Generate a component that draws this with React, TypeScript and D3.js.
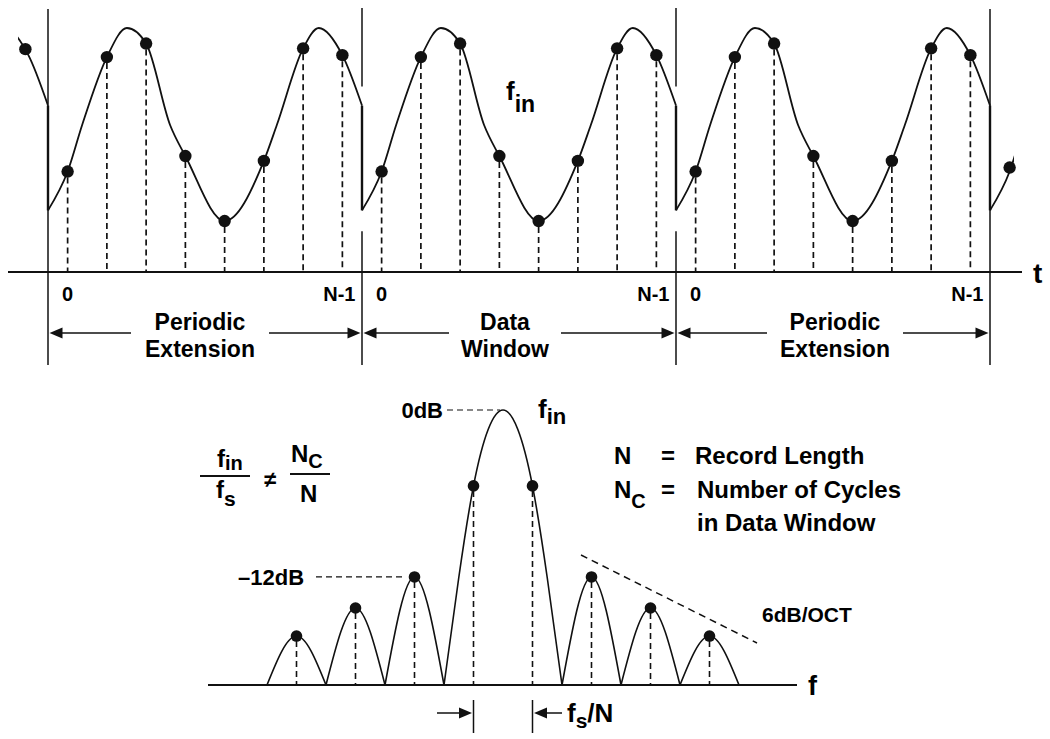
import React from "react";
import * as d3 from "d3";

// ---------- Time domain (top panel) ----------
const sampleIdx = [0, 1, 2, 3, 4, 5, 6, 7];
const sampleVal = [-0.48, 0.7, 0.84, -0.32, -0.99, -0.37, 0.79, 0.72];
// points on the continuous input waveform inside one record (time in samples)
const curveT = [-0.5, 0, 0.37, 1, 1.51, 2, 2.61, 3, 4, 5, 5.33, 6, 6.4, 7, 7.5];
const curveV = [-0.88, -0.48, 0, 0.7, 1, 0.84, 0, -0.32, -0.99, -0.37, 0, 0.79, 1, 0.72, 0.2];
const windows = [0, 1, 2];
const windowTitle = ["Periodic", "Data", "Periodic"];
const windowSubtitle = ["Extension", "Window", "Extension"];
const indexLabels = ["0", "N-1"];

// ---------- Frequency domain (bottom panel) ----------
const sideLobeCenters = [-3.5, -2.5, -1.5, 1.5, 2.5, 3.5];
const sideLobePeaks = [0.178, 0.28, 0.393, 0.393, 0.28, 0.178];
const mainLobeF = [-1, -0.75, -0.5, -0.25, 0, 0.25, 0.5, 0.75, 1];
const mainLobeA = [0, 0.39, 0.724, 0.93, 1, 0.93, 0.724, 0.39, 0];
const mainSampleF = [-0.5, 0.5];
const mainSampleA = [0.724, 0.724];

const FONT = "'Liberation Sans', Arial, Helvetica, sans-serif";

export default function App() {
  const W = 1050;
  const H = 739;

  // top scales
  const xT = d3.scaleLinear().domain([-0.5, 23.5]).range([48, 990]);
  const yT = d3.scaleLinear().domain([-1, 1]).range([222, 28]);
  const axisY = 272;
  const waveLine = d3
    .line<[number, number]>()
    .x((d) => d[0])
    .y((d) => d[1])
    .curve(d3.curveMonotoneX);
  const wavePath = (w: number) =>
    waveLine(curveT.map((t, i) => [xT(w * 8 + t), yT(curveV[i])] as [number, number])) || "";

  const bounds = [0, 1, 2, 3].map((b) => xT(b * 8 - 0.5));
  const yEnd = yT(curveV[curveV.length - 1]);
  const yStart = yT(curveV[0]);

  // bottom scales
  const xF = d3.scaleLinear().domain([-4, 4]).range([267, 739]);
  const yF = d3.scaleLinear().domain([0, 1]).range([685, 410]);
  const lobeLine = d3
    .line<[number, number]>()
    .x((d) => xF(d[0]))
    .y((d) => yF(d[1]))
    .curve(d3.curveNatural);

  const arrow = (tip: number, y: number, dir: number, len = 13, hw = 5.5) =>
    `M${tip},${y}L${tip - dir * len},${y - hw}L${tip - dir * len},${y + hw}Z`;

  const labelCenter = [200, 505, 835];
  const halfGap = [69, 56, 68];
  const arrowY = 333;

  const dash = "6,4";
  const stroke = "#111";

  return (
    <svg
      width={W}
      height={H}
      viewBox={`0 0 ${W} ${H}`}
      style={{ position: "absolute", left: 0, top: 0, background: "#fff" }}
      fontFamily={FONT}
      fontWeight="bold"
    >
      <defs>
        <clipPath id="clipLeft">
          <rect x={18} y={0} width={30} height={300} />
        </clipPath>
        <clipPath id="clipRight">
          <rect x={990} y={0} width={24} height={300} />
        </clipPath>
      </defs>

      {/* ---------- TOP PANEL ---------- */}
      <line x1={8} x2={1022} y1={axisY} y2={axisY} stroke={stroke} strokeWidth={2} />
      <text x={1033} y={283} fontSize={28}>t</text>

      {/* window boundaries */}
      {bounds.map((bx, b) =>
        b === 0 || b === 3 ? (
          <line key={`b${b}`} x1={bx} x2={bx} y1={9} y2={365} stroke={stroke} strokeWidth={1.5} />
        ) : (
          <g key={`b${b}`}>
            <line x1={bx} x2={bx} y1={8} y2={yEnd - 19} stroke={stroke} strokeWidth={1.5} />
            <line x1={bx} x2={bx} y1={yStart + 21} y2={365} stroke={stroke} strokeWidth={1.5} />
          </g>
        )
      )}
      {/* discontinuity jumps */}
      {bounds.map((bx, b) => (
        <line key={`j${b}`} x1={bx} x2={bx} y1={yEnd} y2={yStart} stroke={stroke} strokeWidth={2.4} />
      ))}

      {/* waveform */}
      <path d={wavePath(-1)} fill="none" stroke={stroke} strokeWidth={1.8} clipPath="url(#clipLeft)" />
      {windows.map((w) => (
        <path key={`w${w}`} d={wavePath(w)} fill="none" stroke={stroke} strokeWidth={1.8} />
      ))}
      <path d={wavePath(3)} fill="none" stroke={stroke} strokeWidth={1.8} clipPath="url(#clipRight)" />

      {/* sample stems */}
      {windows.map((w) =>
        sampleIdx.map((k, i) => (
          <line
            key={`s${w}-${k}`}
            x1={xT(w * 8 + k)}
            x2={xT(w * 8 + k)}
            y1={yT(sampleVal[i]) + 6}
            y2={axisY}
            stroke={stroke}
            strokeWidth={1.7}
            strokeDasharray={dash}
          />
        ))
      )}
      {/* sample dots */}
      {windows.map((w) =>
        sampleIdx.map((k, i) => (
          <circle key={`d${w}-${k}`} cx={xT(w * 8 + k)} cy={yT(sampleVal[i])} r={6.2} fill={stroke} />
        ))
      )}
      <circle cx={xT(-8 + sampleIdx[7]) - 3} cy={yT(sampleVal[7]) - 6} r={6.2} fill={stroke} />
      <circle cx={xT(24 + sampleIdx[0])} cy={yT(sampleVal[0]) - 4} r={6.2} fill={stroke} />

      {/* f_in label */}
      <text x={506} y={100} fontSize={26}>
        f<tspan fontSize={23} dy={12}>in</tspan>
      </text>

      {/* index labels and window captions */}
      {windows.map((w) => (
        <g key={`lab${w}`}>
          <text x={xT(w * 8 + 0)} y={301} fontSize={20} textAnchor="middle">
            {indexLabels[0]}
          </text>
          <text x={xT(w * 8 + 7) - 3} y={301} fontSize={20} textAnchor="middle">
            {indexLabels[1]}
          </text>
          <text x={labelCenter[w]} y={330} fontSize={23} textAnchor="middle">
            {windowTitle[w]}
          </text>
          <text x={labelCenter[w]} y={357} fontSize={23} textAnchor="middle">
            {windowSubtitle[w]}
          </text>
          <line
            x1={bounds[w] + 8}
            x2={labelCenter[w] - halfGap[w]}
            y1={arrowY}
            y2={arrowY}
            stroke={stroke}
            strokeWidth={1.5}
          />
          <path d={arrow(bounds[w] + 1.5, arrowY, -1)} fill={stroke} />
          <line
            x1={labelCenter[w] + halfGap[w]}
            x2={bounds[w + 1] - 8}
            y1={arrowY}
            y2={arrowY}
            stroke={stroke}
            strokeWidth={1.5}
          />
          <path d={arrow(bounds[w + 1] - 1.5, arrowY, 1)} fill={stroke} />
        </g>
      ))}

      {/* ---------- BOTTOM PANEL ---------- */}
      <line x1={208} x2={797} y1={yF(0)} y2={yF(0)} stroke={stroke} strokeWidth={2} />
      <text x={808} y={695} fontSize={27}>f</text>

      {/* side lobes */}
      {sideLobeCenters.map((c, i) => (
        <path
          key={`lobe${i}`}
          d={lobeLine([[c - 0.5, 0], [c, sideLobePeaks[i]], [c + 0.5, 0]]) || ""}
          fill="none"
          stroke={stroke}
          strokeWidth={1.6}
        />
      ))}
      {/* main lobe */}
      <path
        d={lobeLine(mainLobeF.map((f, i) => [f, mainLobeA[i]] as [number, number])) || ""}
        fill="none"
        stroke={stroke}
        strokeWidth={1.6}
      />
      {/* stems */}
      {sideLobeCenters.map((c, i) => (
        <line
          key={`ls${i}`}
          x1={xF(c)}
          x2={xF(c)}
          y1={yF(sideLobePeaks[i]) + 5}
          y2={yF(0)}
          stroke={stroke}
          strokeWidth={1.6}
          strokeDasharray={dash}
        />
      ))}
      {mainSampleF.map((f, i) => (
        <line
          key={`ms${i}`}
          x1={xF(f)}
          x2={xF(f)}
          y1={yF(mainSampleA[i]) + 5}
          y2={yF(0)}
          stroke={stroke}
          strokeWidth={1.6}
          strokeDasharray={dash}
        />
      ))}
      {sideLobeCenters.map((c, i) => (
        <circle key={`ld${i}`} cx={xF(c)} cy={yF(sideLobePeaks[i])} r={5.8} fill={stroke} />
      ))}
      {mainSampleF.map((f, i) => (
        <circle key={`md${i}`} cx={xF(f)} cy={yF(mainSampleA[i])} r={5.8} fill={stroke} />
      ))}

      {/* level annotations */}
      <text x={443} y={418} fontSize={22} textAnchor="end">0dB</text>
      <line x1={447} x2={500} y1={yF(1)} y2={yF(1)} stroke={stroke} strokeWidth={1.2} strokeDasharray={dash} />
      <text x={538} y={418} fontSize={26}>
        f<tspan fontSize={22} dy={6}>in</tspan>
      </text>
      <text x={238} y={585} fontSize={22}>–12dB</text>
      <line x1={316} x2={402} y1={yF(sideLobePeaks[2])} y2={yF(sideLobePeaks[2])} stroke={stroke} strokeWidth={1.2} strokeDasharray={dash} />
      <line x1={581} x2={757} y1={555} y2={643} stroke={stroke} strokeWidth={1.5} strokeDasharray="7,5" />
      <text x={762} y={622} fontSize={21}>6dB/OCT</text>

      {/* ratio formula */}
      <text x={217} y={467} fontSize={24}>
        f<tspan fontSize={20} dy={3}>in</tspan>
      </text>
      <line x1={200} x2={250} y1={476} y2={476} stroke={stroke} strokeWidth={2} />
      <text x={216} y={498} fontSize={24}>
        f<tspan fontSize={21} dy={8}>s</tspan>
      </text>
      <text x={264} y={487} fontSize={22}>≠</text>
      <text x={291} y={462} fontSize={24}>
        N<tspan fontSize={20} dy={6}>C</tspan>
      </text>
      <line x1={290} x2={330} y1={474} y2={474} stroke={stroke} strokeWidth={2} />
      <text x={300} y={502} fontSize={24}>N</text>

      {/* legend */}
      <text x={614} y={464} fontSize={24}>N</text>
      <text x={661} y={464} fontSize={24}>=</text>
      <text x={695} y={464} fontSize={24}>Record Length</text>
      <text x={614} y={498} fontSize={24}>
        N<tspan fontSize={20} dy={10}>C</tspan>
      </text>
      <text x={661} y={498} fontSize={24}>=</text>
      <text x={697} y={498} fontSize={24}>Number of Cycles</text>
      <text x={697} y={531} fontSize={24}>in Data Window</text>

      {/* bin width marker */}
      <line x1={437} x2={462} y1={713} y2={713} stroke={stroke} strokeWidth={1.5} />
      <path d={arrow(xF(mainSampleF[0]) - 1.5, 713, 1)} fill={stroke} />
      <line x1={xF(mainSampleF[0])} x2={xF(mainSampleF[0])} y1={700} y2={733} stroke={stroke} strokeWidth={1.5} />
      <line x1={xF(mainSampleF[1])} x2={xF(mainSampleF[1])} y1={700} y2={733} stroke={stroke} strokeWidth={1.5} />
      <path d={arrow(xF(mainSampleF[1]) + 1.5, 713, -1)} fill={stroke} />
      <line x1={xF(mainSampleF[1]) + 12} x2={562} y1={713} y2={713} stroke={stroke} strokeWidth={1.5} />
      <text x={567} y={722} fontSize={26}>
        f<tspan fontSize={21} dy={6}>s</tspan>
        <tspan fontSize={26} dy={-6}>/N</tspan>
      </text>
    </svg>
  );
}
